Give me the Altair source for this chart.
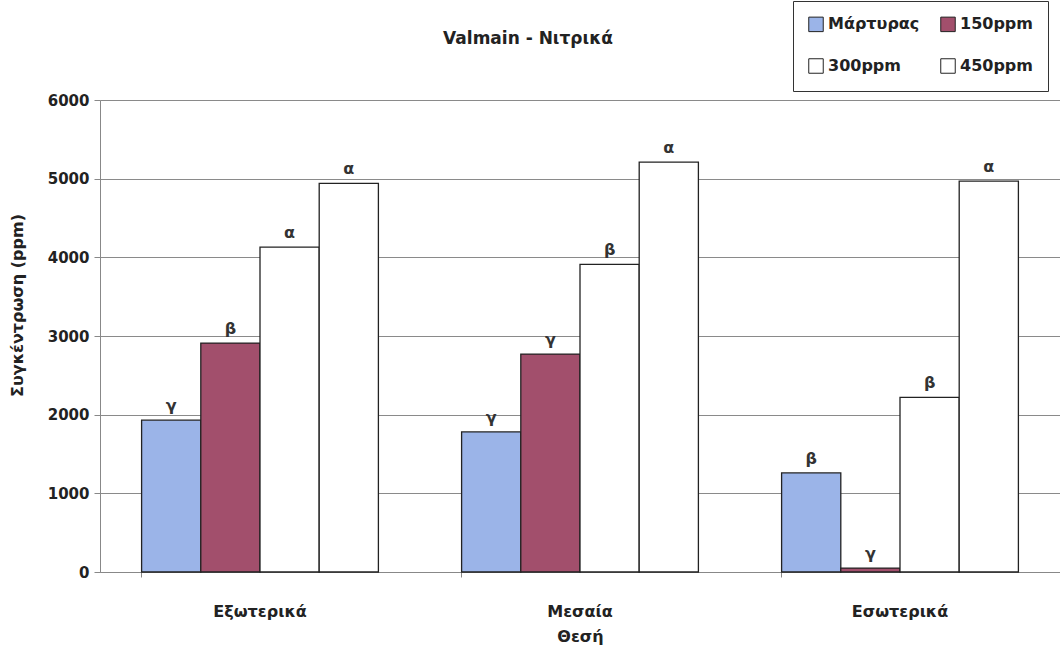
import altair as alt
import pandas as pd

categories = ["Εξωτερικά", "Μεσαία", "Εσωτερικά"]
series = ["Μάρτυρας", "150ppm", "300ppm", "450ppm"]
values = {
    "Μάρτυρας": [1930, 1780, 1260],
    "150ppm": [2910, 2770, 50],
    "300ppm": [4130, 3910, 2220],
    "450ppm": [4940, 5210, 4970],
}
letters = {
    "Μάρτυρας": ["γ", "γ", "β"],
    "150ppm": ["β", "γ", "γ"],
    "300ppm": ["α", "β", "β"],
    "450ppm": ["α", "α", "α"],
}
colors = ["#9bb4e8", "#a24f6c", "#ffffff", "#ffffff"]

rows = []
for s in series:
    for i, c in enumerate(categories):
        rows.append({"Θέση": c, "series": s, "value": values[s][i], "letter": letters[s][i]})
df = pd.DataFrame(rows)

FONT = "DejaVu Sans"

x = alt.X("Θέση:N", sort=categories,
          scale=alt.Scale(paddingInner=0.26, paddingOuter=0.13),
          axis=alt.Axis(title="Θεσή", labelAngle=0, bandPosition=0,
                        labelFont=FONT, labelFontSize=16, labelFontWeight="bold",
                        labelColor="#222", titleFont=FONT, titleFontSize=16,
                        titleFontWeight="bold", titleColor="#222",
                        labelPadding=26, titlePadding=9,
                        domainColor="#888", tickColor="#888", tickSize=5,
                        grid=False))
xo = alt.XOffset("series:N", sort=series, scale=alt.Scale(paddingInner=0, paddingOuter=0))
y = alt.Y("value:Q", scale=alt.Scale(domain=[0, 6000]),
          axis=alt.Axis(title="Συγκέντρωση (ppm)", values=[0, 1000, 2000, 3000, 4000, 5000, 6000],
                        format="d",
                        labelFont=FONT, labelFontSize=15, labelFontWeight="bold",
                        labelColor="#222", titleFont=FONT, titleFontSize=16,
                        titleFontWeight="bold", titleColor="#222", titlePadding=22,
                        titleY=205, labelPadding=5,
                        domainColor="#888", tickColor="#888", tickSize=6,
                        gridColor="#8a8a8a", gridWidth=1))

bars = alt.Chart(df).mark_bar(stroke="#222", strokeWidth=1.3).encode(
    x=x, xOffset=xo, y=y,
    color=alt.Color("series:N", sort=series,
                    scale=alt.Scale(domain=series, range=colors),
                    legend=alt.Legend(title=None, orient="none", legendX=693, legendY=-99,
                                      columns=2, direction="horizontal",
                                      symbolType="square", symbolSize=210,
                                      symbolStrokeColor="#222", symbolStrokeWidth=1,
                                      labelFont=FONT, labelFontSize=16, labelFontWeight="bold",
                                      labelColor="#222", rowPadding=22, columnPadding=18,
                                      padding=15, strokeColor="#333", fillColor="white",
                                      labelLimit=200, labelOffset=4)),
)

labels = alt.Chart(df).mark_text(baseline="bottom", dy=-6, font=FONT, fontSize=16,
                                 fontWeight="bold", color="#333").encode(
    x=alt.X("Θέση:N", sort=categories), xOffset=xo, y="value:Q", text="letter:N")

chart = alt.layer(bars, labels).properties(
    width=960, height=472,
    title=alt.TitleParams("Valmain - Νιτρικά", font=FONT, fontSize=17, fontWeight="bold",
                          color="#222", anchor="middle", dx=-52, offset=-47, frame="group"),
    autosize=alt.AutoSizeParams(type="none"),
    padding={"left": 100, "top": 100, "right": 0, "bottom": 79},
).configure_view(stroke=None).configure(background="white")

chart.save("out.html", embed_options={"renderer": "svg", "actions": False})
